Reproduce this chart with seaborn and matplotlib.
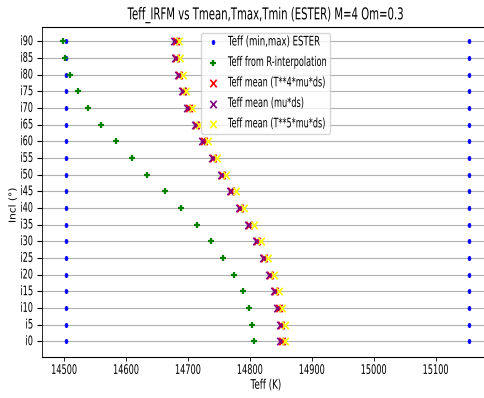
import os
import numpy as np
import pandas as pd
import matplotlib
matplotlib.use("Agg")
import matplotlib.pyplot as plt
import seaborn as sns
from matplotlib import font_manager as fm
from matplotlib.font_manager import FontProperties
from matplotlib.textpath import TextPath, TextToPath
from matplotlib.patheffects import AbstractPathEffect
from matplotlib.transforms import Affine2D
from matplotlib.path import Path
from matplotlib.markers import MarkerStyle

# ---------------- data ----------------
incl_labels = ["i0", "i5", "i10", "i15", "i20", "i25", "i30", "i35", "i40", "i45",
               "i50", "i55", "i60", "i65", "i70", "i75", "i80", "i85", "i90"]
teff_min_ester = [14502, 14502, 14502, 14502, 14502, 14502, 14502, 14502, 14502, 14502,
                  14502, 14502, 14502, 14502, 14502, 14502, 14502, 14502, 14502]
teff_max_ester = [15153, 15153, 15153, 15153, 15153, 15153, 15153, 15153, 15153, 15153,
                  15153, 15153, 15153, 15153, 15153, 15153, 15153, 15153, 15153]
teff_interp = [14807, 14804, 14799, 14789, 14774, 14757, 14737, 14714, 14689, 14662,
               14634, 14609, 14583, 14559, 14539, 14522, 14509, 14501, 14498]
tmean_mu = [14849, 14848, 14844, 14838, 14830, 14821, 14809, 14797, 14782, 14767,
            14753, 14738, 14723, 14711, 14699, 14690, 14684, 14679, 14678]
tmean_t4 = [14851, 14850, 14846, 14840, 14832, 14823, 14811, 14799, 14784, 14769,
            14755, 14740, 14725, 14713, 14701, 14692, 14686, 14681, 14680]
tmean_t5 = [14857, 14856, 14852, 14847, 14839, 14829, 14818, 14806, 14791, 14777,
            14762, 14746, 14732, 14718, 14707, 14697, 14692, 14687, 14686]
x_ticks = [14500, 14600, 14700, 14800, 14900, 15000, 15100]
title = "Teff_IRFM vs Tmean,Tmax,Tmin (ESTER) M=4 Om=0.3"
xlabel = "Teff (K)"
ylabel = "Incl (°)"
series_labels = ["Teff (min,max) ESTER", "Teff from R-interpolation",
                 "Teff mean (T**4*mu*ds)", "Teff mean (mu*ds)", "Teff mean (T**5*mu*ds)"]

W_PX, H_PX = 485, 398
KX = 0.585                      # text width relative to DejaVu Sans at 10/12 pt
SZ_TXT, SZ_TITLE = 9.5, 11.8    # glyph heights (pt)
COMP_TXT = KX * 10 / SZ_TXT
COMP_TITLE = KX * 12 / SZ_TITLE
R_TARGET = 0.5 * (COMP_TXT + COMP_TITLE)

# ---------------- narrow layout font -----------------------------------
DV = FontProperties(family="DejaVu Sans")
t2p = TextToPath()
samples = ["Teff from R-interpolation", "14500 14800 15100", "i90 i45 i0",
           title, "Teff mean (T**4*mu*ds)"]


def _w(s, prop):
    return t2p.get_text_width_height_descent(s, prop, ismath=False)[0]


dv10 = DV.copy()
dv10.set_size(10)
dvw = [_w(s, dv10) for s in samples]
best = (1e9, fm.findfont(DV), 1.0)
seen = set()
for f in fm.fontManager.ttflist:
    if f.fname in seen:
        continue
    seen.add(f.fname)
    try:
        if f.style != "normal" or int(f.weight) != 400:
            continue
    except Exception:
        continue
    key = (f.name + " " + os.path.basename(f.fname)).lower()
    st = str(f.stretch)
    if not (("cond" in key) or ("narrow" in key) or st in (
            "condensed", "semi-condensed", "extra-condensed", "ultra-condensed")):
        continue
    if "mono" in key or "serif" in key.replace("sans", ""):
        continue
    try:
        p = FontProperties(fname=f.fname, size=10)
        ratios = np.array([_w(s, p) / d for s, d in zip(samples, dvw)])
    except Exception:
        continue
    if not np.all(np.isfinite(ratios)) or ratios.min() <= 0:
        continue
    m = ratios.mean()
    score = abs(np.log(m / R_TARGET)) + 3 * ratios.std() / m
    if score < best[0]:
        best = (score, f.fname, m)

F_FILE, F_RATIO = best[1], best[2]


def layout_size(dv_size, comp):
    return dv_size * comp / F_RATIO


def fprop(dv_size, comp):
    return FontProperties(fname=F_FILE, size=layout_size(dv_size, comp))


class FitDV(AbstractPathEffect):
    """Draw DejaVu Sans glyphs squeezed into the layout text's width."""

    def __init__(self, text_obj, k):
        super().__init__()
        self.t = text_obj
        self.k = k

    def draw_path(self, renderer, gc, tpath, affine, rgbFace=None):
        try:
            s = self.t.get_text()
            e1 = tpath.get_extents()
            dv = TextPath((0, 0), s, size=100 * self.k, prop=DV)
            e2 = dv.get_extents()
            w1, w2 = e1.x1 - e1.x0, e2.x1 - e2.x0
            if w1 <= 0 or w2 <= 0:
                raise ValueError
            tr = Affine2D().translate(-e2.x0, 0).scale(w1 / w2, 1).translate(e1.x0, 0)
            renderer.draw_path(gc, dv, tr + affine, rgbFace)
        except Exception:
            renderer.draw_path(gc, tpath, affine, rgbFace)


class SquishXY(AbstractPathEffect):
    def __init__(self, rx, ry):
        super().__init__()
        self.rx, self.ry = rx, ry

    def draw_path(self, renderer, gc, tpath, affine, rgbFace=None):
        e = tpath.transformed(affine).get_extents()
        cx, cy = 0.5 * (e.x0 + e.x1), 0.5 * (e.y0 + e.y1)
        tr = affine + Affine2D().translate(-cx, -cy).scale(self.rx, self.ry).translate(cx, cy)
        renderer.draw_path(gc, tpath, tr, rgbFace)


# ---------------- markers ----------------
M, L = Path.MOVETO, Path.LINETO
RX, RP, RD = 0.85, 0.95, 0.65
mk_x = MarkerStyle(Path([(-RX, -1), (RX, 1), (-RX, 1), (RX, -1)], [M, L, M, L]))
mk_plus = MarkerStyle(Path([(-RP, 0), (RP, 0), (0, -1), (0, 1)], [M, L, M, L]))
circ = Path.unit_circle()
mk_dot = MarkerStyle(Path(circ.vertices * np.array([RD, 1.0]), circ.codes))

# ---------------- figure ----------------
fig = plt.figure(figsize=(W_PX / 100, H_PX / 100), dpi=100)
ax = fig.add_axes([42 / W_PX, 1 - 357 / H_PX, 447 / W_PX, 330 / H_PX])

s_x = 5.4 ** 2
s_p = 5.0 ** 2
s_dot = 3.0 ** 2
lw_m = 1.2

sns.scatterplot(x=teff_min_ester, y=incl_labels, ax=ax, marker=mk_dot, s=s_dot,
                color="blue", edgecolor="blue", linewidth=0.6, label=series_labels[0])
sns.scatterplot(x=teff_max_ester, y=incl_labels, ax=ax, marker=mk_dot, s=s_dot,
                color="blue", edgecolor="blue", linewidth=0.6)
sns.scatterplot(x=teff_interp, y=incl_labels, ax=ax, marker=mk_plus, s=s_p,
                color="green", edgecolor="green", linewidth=1.6, label=series_labels[1])
sns.scatterplot(x=tmean_t4, y=incl_labels, ax=ax, marker=mk_x, s=s_x,
                color="red", edgecolor="red", linewidth=lw_m, label=series_labels[2])
sns.scatterplot(x=tmean_mu, y=incl_labels, ax=ax, marker=mk_x, s=s_x,
                color="purple", edgecolor="purple", linewidth=lw_m, label=series_labels[3])
sns.scatterplot(x=tmean_t5, y=incl_labels, ax=ax, marker=mk_x, s=s_x,
                color="yellow", edgecolor="yellow", linewidth=lw_m, label=series_labels[4])

ax.set_xlim(14464, 15186)
ax.set_ylim(-0.95, 18.85)
ax.set_xticks(x_ticks)
ax.set_xticklabels([str(v) for v in x_ticks])
ax.set_axisbelow(True)
ax.grid(axis="y", color="#b0b0b0", linewidth=0.8)
ax.grid(axis="x", visible=False)

for side in ("top", "bottom"):
    ax.spines[side].set_linewidth(0.8)
ax.spines["left"].set_linewidth(0.6)
ax.spines["right"].set_linewidth(0.6)
ax.tick_params(axis="x", length=3.0, width=0.6, pad=3.4)
ax.tick_params(axis="y", length=3.6, width=0.8, pad=3.0)

ax.set_title(title, pad=5.5, fontproperties=fprop(SZ_TITLE, COMP_TITLE))
ax.set_xlabel(xlabel, labelpad=3.5, fontproperties=fprop(SZ_TXT, COMP_TXT))
ax.set_ylabel(ylabel, fontsize=SZ_TXT, family="DejaVu Sans")
ax.yaxis.set_label_coords(-0.05, 0.46)

LS = layout_size(SZ_TXT, COMP_TXT)          # legend layout size (pt)
f_px = LS * 100 / 72
lp_h = t2p.get_text_width_height_descent("lp", FontProperties(fname=F_FILE, size=LS), ismath=False)[1] * 100 / 72
leg = ax.legend(loc="upper left", bbox_to_anchor=(200.7 / W_PX, 1 - 32.7 / H_PX),
                bbox_transform=fig.transFigure, borderaxespad=0,
                prop=FontProperties(fname=F_FILE, size=LS),
                borderpad=4.2 / f_px, handlelength=16.3 / f_px, handletextpad=6.5 / f_px,
                labelspacing=max(0.05, (20 - lp_h) / f_px), scatterpoints=1)

fig.canvas.draw()
for lbl in ax.get_xticklabels() + ax.get_yticklabels():
    lbl.set_fontproperties(fprop(SZ_TXT, COMP_TXT))
fig.canvas.draw()
K_TXT = SZ_TXT / layout_size(SZ_TXT, COMP_TXT)
K_TITLE = SZ_TITLE / layout_size(SZ_TITLE, COMP_TITLE)
ax.title.set_path_effects([FitDV(ax.title, K_TITLE)])
for t in [ax.xaxis.label] + ax.get_xticklabels() + ax.get_yticklabels() + leg.get_texts():
    t.set_path_effects([FitDV(t, K_TXT)])
ax.yaxis.label.set_path_effects([SquishXY(0.72, 0.8)])

fig.savefig("out.png", dpi=100)
